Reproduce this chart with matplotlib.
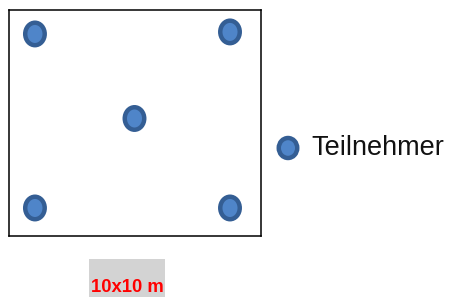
import matplotlib
matplotlib.use("Agg")
import matplotlib.pyplot as plt
from matplotlib.patches import Ellipse, Rectangle

# Participant positions in the 10x10 m field (metres, y measured from top)
participant_x = [1.03, 8.77, 4.98, 1.03, 8.77]
participant_y = [1.06, 0.97, 4.8, 8.76, 8.76]
legend_label = "Teilnehmer"
scale_label = "10x10 m"
field_size = 10

W, H = 451, 297
fig = plt.figure(figsize=(W / 100, H / 100), dpi=100)

# overlay axes in pixel coordinates
ov = fig.add_axes([0, 0, 1, 1])
ov.set_xlim(0, W)
ov.set_ylim(H, 0)
ov.axis("off")

# field axes
fx0, fy0, fx1, fy1 = 9, 10, 261, 236
ax = fig.add_axes([fx0 / W, (H - fy1) / H, (fx1 - fx0) / W, (fy1 - fy0) / H])
ax.set_xlim(0, field_size)
ax.set_ylim(field_size, 0)
ax.set_xticks([])
ax.set_yticks([])
ax.set_facecolor("none")
for s in ax.spines.values():
    s.set_linewidth(1.1)
    s.set_color("black")

face = "#4f85c9"
edge = "#345e94"
lw = 3.2
ew = (19.5 / (fx1 - fx0)) * field_size
eh = (22.5 / (fy1 - fy0)) * field_size
for x, y in zip(participant_x, participant_y):
    ax.add_patch(Ellipse((x, y), ew, eh, facecolor=face, edgecolor=edge, linewidth=lw))

# legend
ov.add_patch(Ellipse((288, 148), 18.5, 20, facecolor=face, edgecolor=edge, linewidth=lw))
ov.text(311, 148, legend_label, fontsize=19.5, family="Liberation Sans",
        va="center", ha="left", color="#111111")

# scale label
ov.add_patch(Rectangle((89, 259), 76, 40, facecolor="#d3d3d3", edgecolor="none"))
ov.text(127, 288, scale_label, fontsize=13.3, family="Liberation Sans", fontweight="bold",
        color="#ff0000", ha="center", va="center")

fig.savefig("out.png", dpi=100)
